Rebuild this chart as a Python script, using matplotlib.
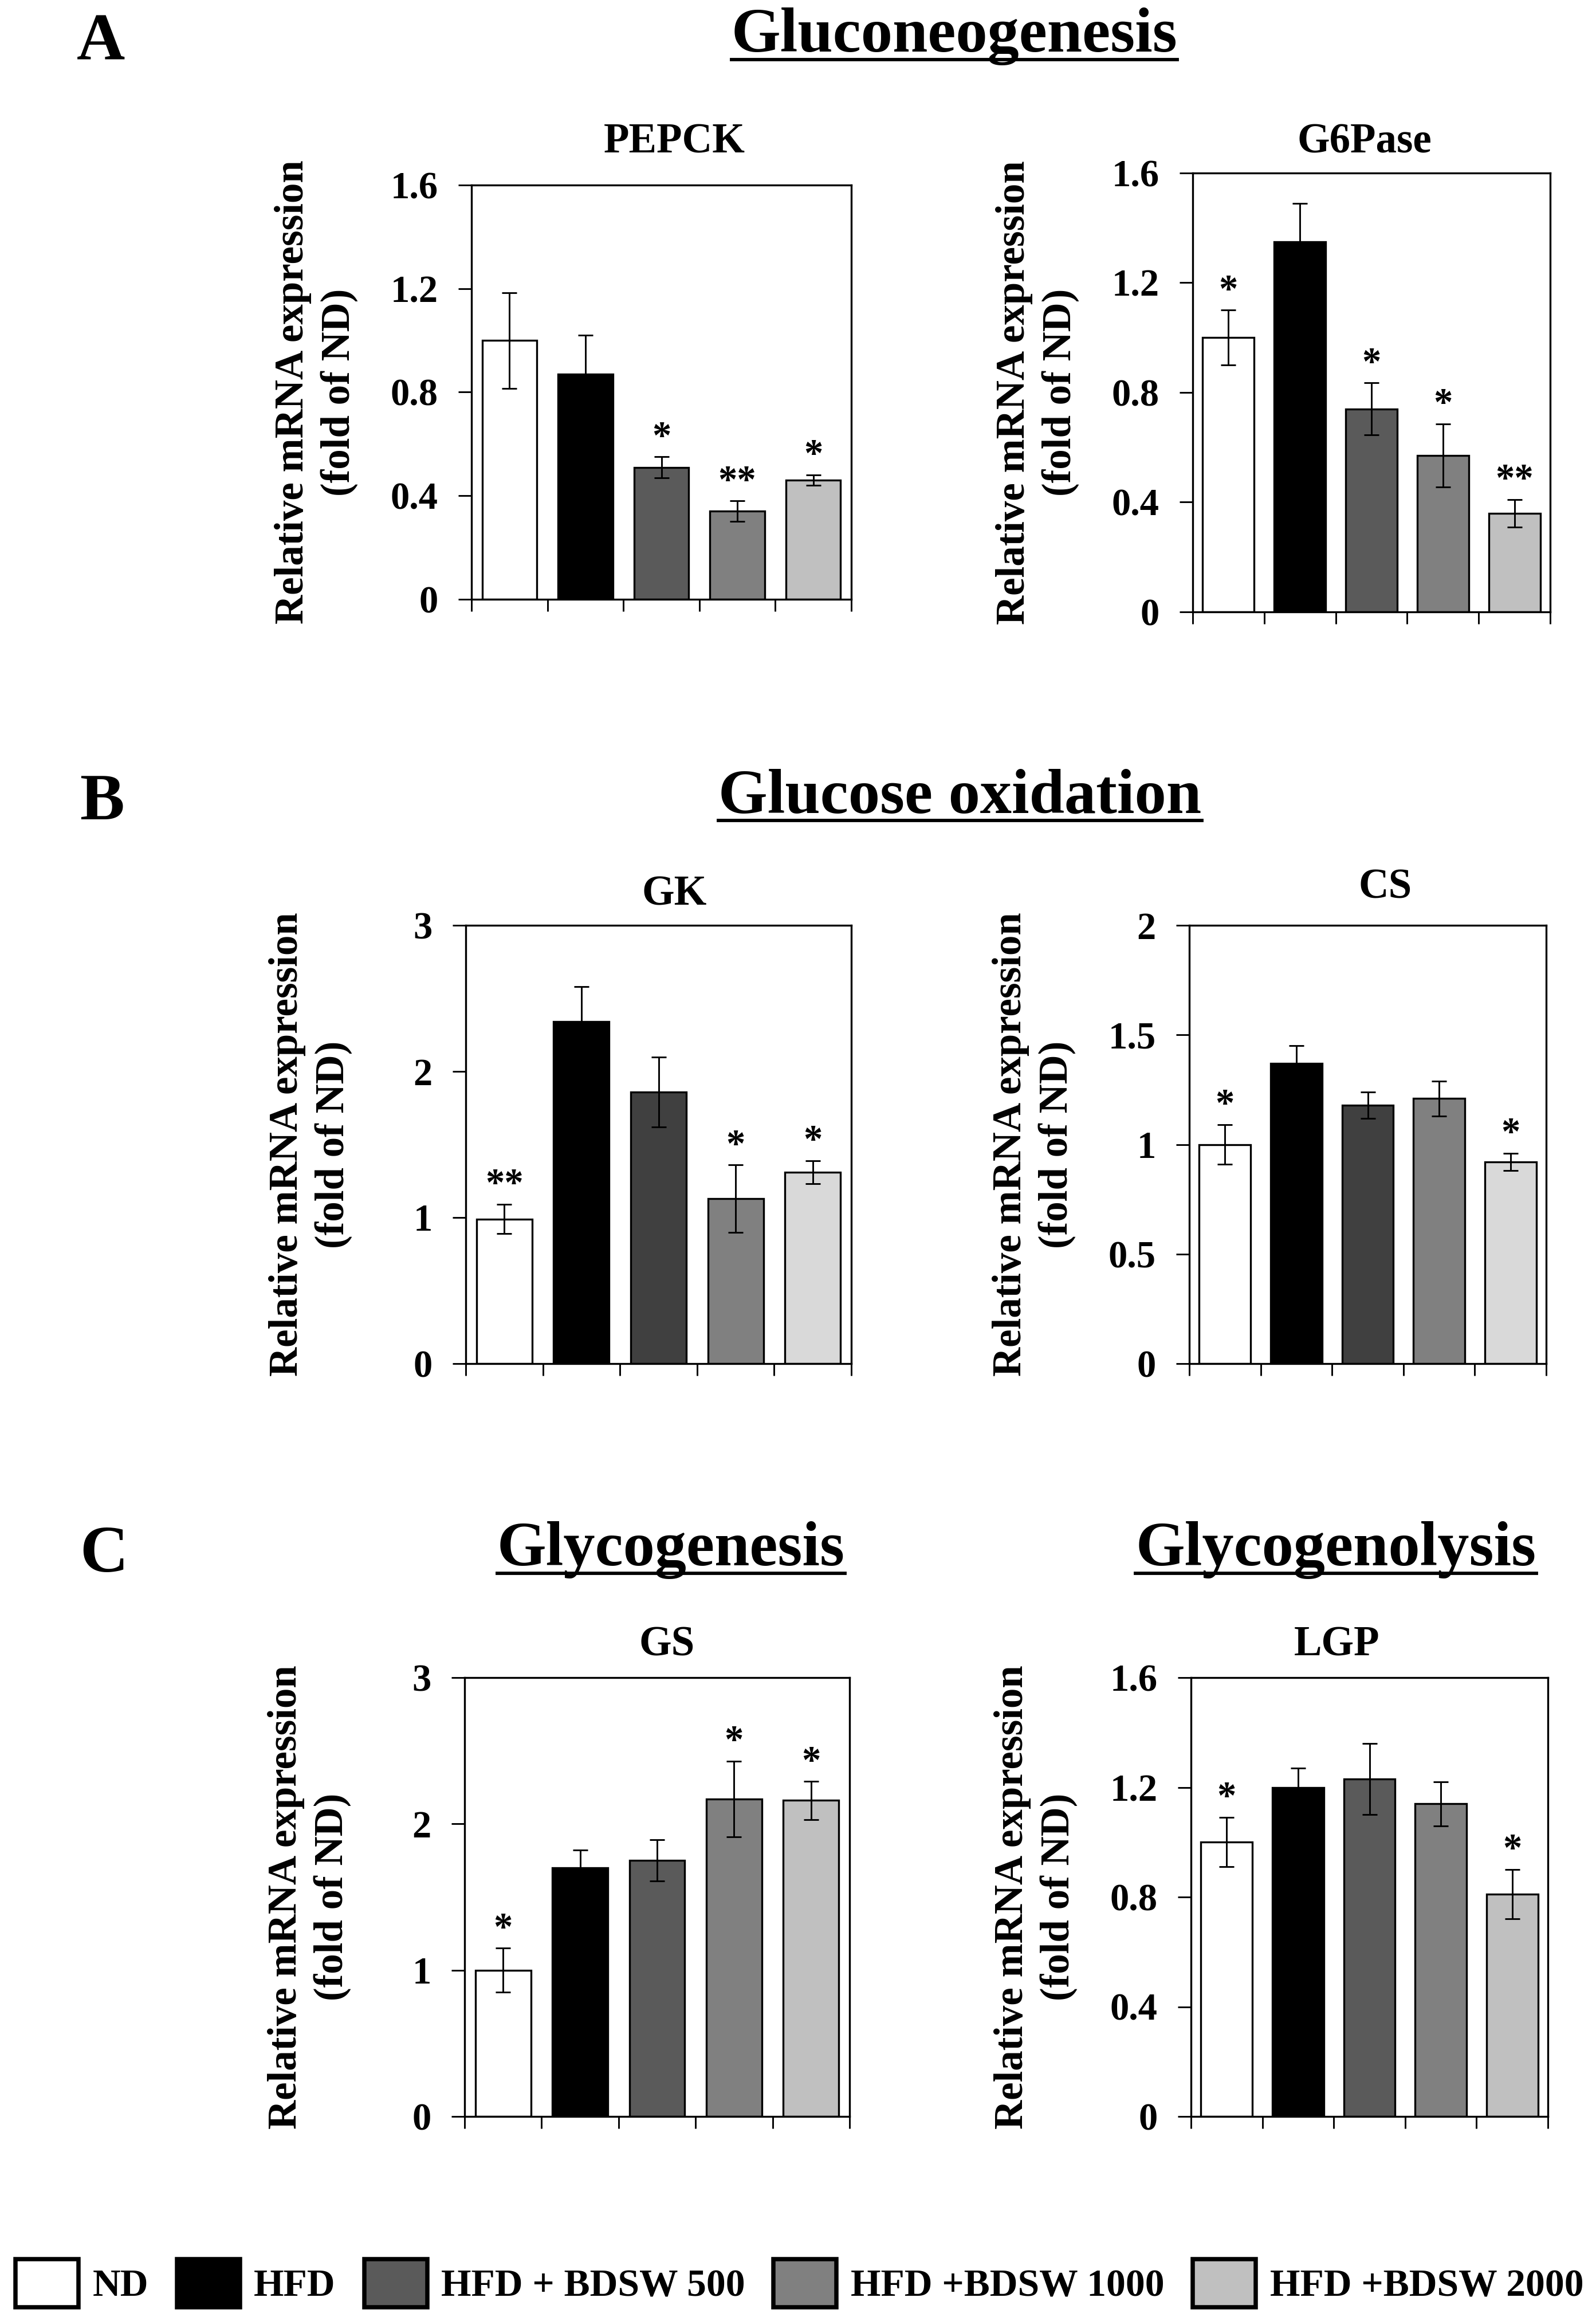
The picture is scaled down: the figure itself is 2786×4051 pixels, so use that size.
import numpy as np
import matplotlib
matplotlib.use('Agg')
import matplotlib.pyplot as plt
from matplotlib.patches import Patch
from matplotlib.lines import Line2D
from matplotlib.ticker import FuncFormatter

plt.rcParams['font.family'] = ['Liberation Serif', 'DejaVu Serif']
plt.rcParams['font.weight'] = 'bold'

# groups
groups = ['ND', 'HFD', 'HFD + BDSW 500', 'HFD +BDSW 1000', 'HFD +BDSW 2000']

# A - gluconeogenesis
pepck_mean = [1.00, 0.87, 0.51, 0.34, 0.46]
pepck_err = [0.185, 0.15, 0.04, 0.04, 0.02]
pepck_sig = ['', '', '*', '**', '*']

g6pase_mean = [1.00, 1.35, 0.74, 0.57, 0.36]
g6pase_err = [0.10, 0.14, 0.095, 0.115, 0.05]
g6pase_sig = ['*', '', '*', '*', '**']

# B - glucose oxidation
gk_mean = [0.99, 2.34, 1.86, 1.13, 1.31]
gk_err = [0.10, 0.24, 0.24, 0.23, 0.08]
gk_sig = ['**', '', '', '*', '*']

cs_mean = [1.00, 1.37, 1.18, 1.21, 0.92]
cs_err = [0.09, 0.08, 0.06, 0.08, 0.04]
cs_sig = ['*', '', '', '', '*']

# C - glycogenesis / glycogenolysis
gs_mean = [1.00, 1.70, 1.75, 2.17, 2.16]
gs_err = [0.15, 0.12, 0.14, 0.26, 0.13]
gs_sig = ['*', '', '', '*', '*']

lgp_mean = [1.00, 1.20, 1.23, 1.14, 0.81]
lgp_err = [0.09, 0.07, 0.13, 0.08, 0.09]
lgp_sig = ['*', '', '', '', '*']

# bar colours (row B uses a slightly different grey set)
colors_a = ['white', 'black', '#5a5a5a', '#808080', '#c0c0c0']
colors_b = ['white', 'black', '#404040', '#808080', '#d9d9d9']

W, H = 2786, 4051
fig = plt.figure(figsize=(W / 300, H / 300), dpi=300)

def px_rect(l, r, t, b):
    return [l / W, 1 - b / H, (r - l) / W, (b - t) / H]

# name, means, errs, sig, ymax, ystep, colours, (l, r, t, b), title (x, baseline)
panels = [
    ('PEPCK', pepck_mean, pepck_err, pepck_sig, 1.6, 0.4, colors_a, (823, 1486, 323, 1046), (1177, 267)),
    ('G6Pase', g6pase_mean, g6pase_err, g6pase_sig, 1.6, 0.4, colors_a, (2082, 2706, 302, 1068), (2382, 267)),
    ('GK', gk_mean, gk_err, gk_sig, 3, 1, colors_b, (813, 1486, 1615, 2380), (1177, 1579)),
    ('CS', cs_mean, cs_err, cs_sig, 2, 0.5, colors_b, (2076, 2699, 1615, 2380), (2418, 1567)),
    ('GS', gs_mean, gs_err, gs_sig, 3, 1, colors_a, (811, 1483, 2928, 3694), (1164, 2890)),
    ('LGP', lgp_mean, lgp_err, lgp_sig, 1.6, 0.4, colors_a, (2079, 2702, 2928, 3694), (2334, 2890)),
]

fmt = FuncFormatter(lambda v, p: '%g' % round(v, 2))

for name, mean, err, sig, ymax, ystep, cols, (l, r, t, b), (tx, ty) in panels:
    ax = fig.add_axes(px_rect(l, r, t, b))
    x = np.arange(len(mean))
    ax.bar(x, mean, width=0.72, color=cols, edgecolor='black', linewidth=0.8, zorder=2)
    ax.errorbar(x, mean, yerr=err, fmt='none', ecolor='black', elinewidth=0.7,
                capsize=3.2, capthick=0.7, zorder=3)
    for i in range(len(mean)):
        if sig[i]:
            ax.annotate(sig[i], xy=(x[i], mean[i] + err[i]), xytext=(0, 4),
                        textcoords='offset points', ha='center', va='baseline',
                        fontsize=16, fontweight='bold')
    ax.set_xlim(-0.5, len(mean) - 0.5)
    ax.set_ylim(0, ymax)
    ax.set_yticks(np.arange(0, ymax + ystep / 2, ystep))
    ax.yaxis.set_major_formatter(fmt)
    ax.set_xticks(np.arange(-0.5, len(mean), 1))
    ax.set_xticklabels([])
    ax.tick_params(axis='y', direction='out', length=5.5, width=0.7, pad=8.5, labelsize=16)
    ax.tick_params(axis='x', direction='out', length=5, width=0.7)
    for s in ax.spines.values():
        s.set_linewidth(0.8)
    ax.set_ylabel('Relative mRNA expression\n(fold of ND)', fontsize=17,
                  fontweight='bold', linespacing=1.3)
    ax.yaxis.set_label_coords(-198 / (r - l), 0.5)
    fig.text(tx / W, 1 - ty / H, name, ha='center', va='baseline', fontsize=17.5,
             fontweight='bold')

# panel letters
for letter, (lx, ly) in zip(['A', 'B', 'C'], [(134, 103), (139, 1430), (139, 2743)]):
    fig.text(lx / W, 1 - ly / H, letter, ha='left', va='baseline', fontsize=28,
             fontweight='bold')

# underlined section headings
headings = [('Gluconeogenesis', 1666, 90), ('Glucose oxidation', 1676, 1418),
            ('Glycogenesis', 1171, 2732), ('Glycogenolysis', 2332, 2732)]
renderer = fig.canvas.get_renderer()
for txt, hx, hy in headings:
    t = fig.text(hx / W, 1 - hy / H, txt, ha='center', va='baseline', fontsize=26.5,
                 fontweight='bold')
    bb = t.get_window_extent(renderer).transformed(fig.transFigure.inverted())
    yl = 1 - (hy + 14) / H
    fig.add_artist(Line2D([bb.x0, bb.x1], [yl, yl], transform=fig.transFigure,
                          color='black', linewidth=1.4))

# legend
handles = [Patch(facecolor=c, edgecolor='black', linewidth=1.8) for c in colors_a]
fig.legend(handles, groups, ncol=5, loc='center left',
           bbox_to_anchor=(27 / W, 1 - 3985 / H), frameon=False, fontsize=16.2,
           handlelength=1.63, handleheight=1.52, handletextpad=0.36,
           columnspacing=0.74, borderpad=0, borderaxespad=0)

fig.savefig('out.png', dpi=300)
